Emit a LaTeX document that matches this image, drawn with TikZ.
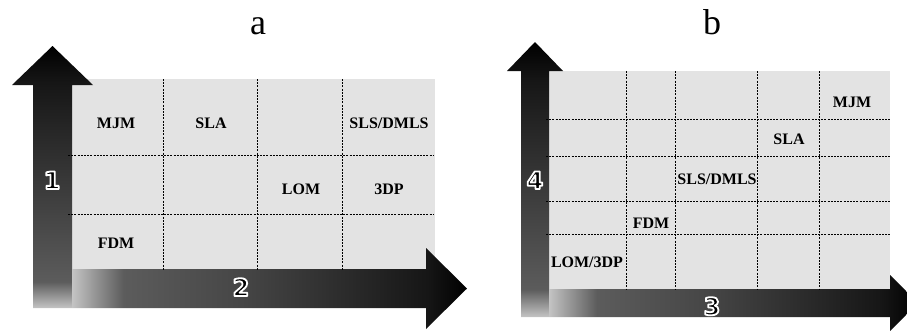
\documentclass[tikz,border=0pt]{standalone}
\usepackage{fontspec}
\setmainfont{Liberation Serif}
\newfontfamily\digitfont{DejaVu Sans}
\definecolor{gridgray}{HTML}{E3E3E3}
\definecolor{ga}{HTML}{C4C4C4}
\definecolor{gb}{HTML}{5C5C5C}
\definecolor{gc}{HTML}{454545}
\definecolor{gd}{HTML}{161616}
\pgfdeclareverticalshading{vgrad}{100bp}{color(0bp)=(ga); color(25bp)=(ga); color(30bp)=(gb); color(68bp)=(gd); color(75bp)=(black); color(100bp)=(black)}
\pgfdeclarehorizontalshading{hgrad}{100bp}{color(0bp)=(ga); color(25bp)=(ga); color(31.5bp)=(gb); color(47bp)=(gc); color(70bp)=(gd); color(75bp)=(black); color(100bp)=(black)}
\newcommand\outl[1]{{\color{white}\special{pdf:literal direct 0 g 1.8 w 1 j 2 Tr}#1\special{pdf:literal direct 0 Tr 0.4 w}}}
\tikzset{
  lbl/.style={font=\bfseries\fontsize{16}{16}\selectfont, inner sep=0pt, anchor=base},
  ttl/.style={font=\fontsize{36}{36}\selectfont, inner sep=0pt, anchor=base},
  dig/.style={font=\digitfont\bfseries\fontsize{24}{24}\selectfont, inner sep=0pt, anchor=base},
  gridline/.style={dash pattern=on 2pt off 1.2pt, line width=1pt},
  panel/.style={fill=gridgray, draw=none},
}
\begin{document}
\begin{tikzpicture}[x=1pt,y=-1pt]
\useasboundingbox (0,0) rectangle (907,330);
\clip (0,0) rectangle (907,330);
% ---------- panel a ----------
\fill[panel] (72,79) rectangle (435,269);
\shade[shading=vgrad] (33,308) -- (33,85) -- (12,85) -- (52.5,46) -- (93,85) -- (72,85) -- (72,308) -- cycle;
\shade[shading=hgrad] (72,269) -- (426,269) -- (426,248) -- (467,288.5) -- (426,329) -- (426,308) -- (72,308) -- cycle;
\foreach \yy in {155,214} \draw[gridline] (68,\yy) -- (434,\yy);
\foreach \xx in {163,257,342} \draw[gridline] (\xx,79) -- (\xx,270);
\node[ttl] (ta) at (258,34) {a};
\node[lbl] (a1) at (116,128) {MJM};
\node[lbl] (a2) at (211,128) {SLA};
\node[lbl] (a3) at (389,128) {SLS/DMLS};
\node[lbl] (a4) at (301,194) {LOM};
\node[lbl] (a5) at (389,194) {3DP};
\node[lbl] (a6) at (116,248) {FDM};
% ---------- panel b ----------
\fill[panel] (549,71) rectangle (890,289);
\shade[shading=vgrad] (521,317) -- (521,71) -- (507,71) -- (535,42) -- (563,71) -- (549,71) -- (549,317) -- cycle;
\shade[shading=hgrad] (549,289) -- (890,289) -- (890,275) -- (918,303) -- (890,331) -- (890,317) -- (549,317) -- cycle;
\foreach \yy in {119,156,201,234} \draw[gridline] (546,\yy) -- (890,\yy);
\foreach \xx in {626,675,757,819} \draw[gridline] (\xx,71) -- (\xx,290);
\node[ttl] (tb) at (712,34) {b};
\node[lbl] (b1) at (852,107) {MJM};
\node[lbl] (b2) at (789,144) {SLA};
\node[lbl] (b3) at (717,184) {SLS/DMLS};
\node[lbl] (b4) at (651,228) {FDM};
\node[lbl] (b5) at (587,267) {LOM/3DP};
% ---------- axis numbers ----------
\node[dig] (d1) at (52,189) {\outl{1}};
\node[dig] (d2) at (241,296) {\outl{2}};
\node[dig] (d4) at (535,189) {\outl{4}};
\node[dig] (d3) at (712,315) {\outl{3}};
\end{tikzpicture}
\end{document}
